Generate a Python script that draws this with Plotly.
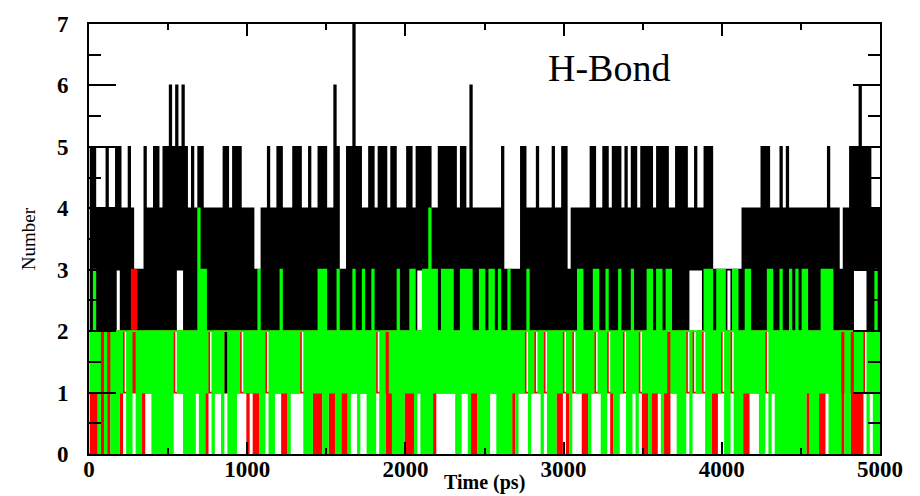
import plotly.graph_objects as go

# sampling of the trajectory (ps)
time_step_ps = 10
time_ps = [time_step_ps * k for k in range(501)]

# Number of H-bonds, black series (10 ps resolution)
hb_black = [
    2,5,2,5,2,4,2,4,2,4, 2,5,2,4,2,4,2,5,3,5, 2,4,2,4,2,5,2,4,2,3, 2,3,2,3,2,5,2,4,2,4, 2,5,2,5,2,4,2,5,2,5,
    2,6,2,5,2,6,3,5,3,6, 2,5,2,4,2,5,2,4,2,5, 2,5,2,4,2,4,2,4,2,4, 2,4,2,4,2,5,1,5,2,4, 2,5,2,5,2,5,2,4,2,4,
    2,4,2,4,2,3,2,3,2,4, 2,4,2,5,2,4,2,4,2,5, 2,5,2,4,2,4,2,4,2,5, 2,5,2,5,2,4,2,4,2,5, 2,4,2,4,2,5,2,5,2,5,
    2,4,2,4,2,6,2,5,2,3, 2,3,2,5,2,5,2,7,2,5, 2,5,2,4,2,4,2,5,2,5, 2,4,2,5,2,5,2,5,2,4, 2,5,2,5,2,4,2,4,2,4,
    2,5,2,5,2,4,2,5,3,5, 3,5,2,5,2,5,2,4,2,4, 2,5,2,5,2,5,2,5,2,5, 2,5,2,4,2,5,2,5,2,4, 2,6,2,4,2,4,2,4,2,4,
    2,4,2,4,2,4,2,4,2,4, 2,5,2,3,2,3,2,3,2,3, 2,3,2,5,2,5,2,4,2,4, 2,4,2,5,2,4,2,4,2,4, 2,4,2,5,2,4,2,4,2,5,
    2,5,2,3,2,4,2,4,2,4, 2,4,2,4,2,4,2,5,2,5, 2,4,2,4,2,5,2,5,2,4, 2,5,2,5,2,5,2,4,2,5, 2,4,2,5,2,5,2,4,2,5,
    2,5,2,5,2,5,2,4,2,5, 2,5,2,5,2,5,2,4,2,4, 2,5,2,5,2,5,2,5,2,4, 3,4,3,5,3,4,3,4,2,5, 2,5,2,5,2,3,2,3,2,3,
    2,3,2,3,3,3,2,3,2,3, 2,3,2,4,2,4,2,4,2,4, 2,4,2,4,2,5,2,5,2,5, 2,4,2,4,2,4,2,5,2,4, 2,5,2,4,2,4,2,4,2,4,
    2,4,2,4,2,4,2,4,2,4, 2,4,2,4,2,4,2,5,2,4, 2,4,2,4,2,3,2,4,2,4, 2,5,2,5,3,5,3,6,3,5, 3,5,2,5,2,4,2,4,2,4,
    2,
]

# red series
hb_red = [
    0,2,0,2,0,2,1,2,0,2, 1,2,0,2,1,2,1,2,1,2, 0,2,1,1,1,2,1,3,1,3, 1,2,1,2,0,2,1,2,1,2, 1,2,1,2,1,2,1,2,1,2,
    1,2,1,2,1,1,1,2,1,2, 1,2,1,2,1,2,1,2,1,2, 1,2,1,2,0,2,1,1,1,2, 1,2,1,2,1,2,2,2,1,2, 1,2,1,2,1,2,1,1,1,2,
    0,2,1,2,0,2,0,2,1,2, 1,2,1,1,1,2,1,2,1,2, 1,2,0,2,0,2,1,2,1,2, 1,2,1,2,1,1,1,2,1,2, 1,2,0,2,0,2,0,2,1,2,
    1,2,0,2,0,2,1,2,1,2, 0,2,0,2,1,2,1,2,1,2, 1,2,1,2,1,2,1,2,1,2, 1,2,1,1,1,2,1,2,0,2, 0,2,1,2,1,2,1,2,1,2,
    0,2,0,2,0,2,1,2,1,2, 1,2,1,2,1,2,1,2,0,2, 1,2,1,2,1,2,1,2,1,2, 1,2,1,2,1,2,1,2,1,2, 1,2,0,2,0,2,1,2,1,2,
    1,2,1,2,1,2,1,2,1,2, 1,2,1,2,1,2,1,2,0,2, 1,2,1,2,1,2,1,1,1,2, 1,2,1,1,1,2,1,2,1,1, 1,2,1,2,1,2,0,2,0,2,
    1,1,0,2,1,2,1,1,1,2, 1,2,0,2,0,2,1,2,1,2, 1,1,1,2,1,2,1,2,1,1, 0,2,1,2,1,2,1,2,1,1, 1,2,1,2,1,2,1,2,1,1,
    0,2,0,2,1,2,0,2,0,2, 1,2,1,2,0,2,0,2,1,2, 1,2,1,2,1,2,1,2,1,1, 1,2,1,1,1,2,1,2,1,1, 1,2,1,2,0,2,0,2,1,2,
    1,1,1,2,1,2,1,1,1,2, 1,2,1,2,0,2,0,2,1,2, 1,2,1,2,1,2,1,2,1,1, 1,2,1,2,1,2,1,2,1,2, 1,2,1,2,1,2,1,2,1,2,
    1,2,1,2,0,2,1,2,1,2, 1,2,0,2,0,2,1,2,1,2, 1,2,1,2,1,2,0,2,1,2, 1,2,0,2,0,2,0,2,0,2, 1,1,1,2,1,2,1,2,1,2,
    1,
]

# green series
hb_green = [
    1,2,1,3,1,2,0,2,2,2, 0,2,2,2,0,2,0,2,0,2, 1,2,2,2,0,2,0,2,2,2, 0,2,0,2,1,2,1,2,1,2, 0,2,0,2,0,2,0,2,0,2,
    0,2,0,2,2,2,1,2,1,2, 0,2,0,2,0,2,0,2,1,4, 0,3,0,3,1,2,2,2,0,2, 1,2,1,2,0,2,2,2,0,2, 0,2,0,2,1,2,2,2,1,2,
    1,2,1,2,1,2,1,3,0,2, 0,2,2,2,0,2,0,2,1,2, 1,3,1,2,1,2,0,2,1,2, 1,2,1,2,2,2,0,2,0,2, 0,2,1,2,1,3,1,3,0,3,
    0,2,1,2,1,2,0,3,0,2, 1,2,1,2,0,2,1,3,1,2, 0,2,1,3,1,2,0,2,0,3, 0,2,2,2,0,2,0,2,2,2, 1,2,0,2,0,3,0,2,0,2,
    1,2,1,3,1,3,0,2,1,2, 0,3,0,3,0,4,0,3,1,3, 1,2,1,3,1,3,1,3,1,3, 1,2,0,2,0,3,1,3,1,3, 0,3,1,2,1,2,0,3,0,3,
    0,2,0,3,1,3,1,2,0,3, 0,2,0,2,0,3,0,2,1,2, 0,2,1,2,1,2,2,3,0,2, 1,2,2,2,1,2,0,2,2,2, 0,2,0,2,0,2,1,2,1,2,
    2,2,1,2,0,2,2,2,1,3, 1,3,1,2,1,2,0,2,1,3, 2,3,1,2,0,2,0,3,2,2, 1,2,0,2,0,3,1,2,2,2, 0,2,0,3,1,2,0,2,2,2,
    1,2,1,3,0,3,1,2,1,3, 1,3,0,2,1,3,2,3,1,2, 1,2,0,2,0,2,0,2,2,2, 0,2,2,2,1,2,1,2,2,3, 0,3,0,3,1,2,1,3,1,3,
    2,3,0,2,0,2,2,3,0,3, 0,2,0,2,1,3,1,3,1,2, 1,2,1,2,0,2,0,2,2,3, 0,3,1,2,0,2,0,3,0,2, 0,2,0,3,0,2,0,3,0,2,
    0,3,0,3,1,2,0,2,0,2, 0,2,1,3,1,3,1,3,0,3, 0,2,0,2,0,2,2,2,0,2, 0,2,2,2,1,2,1,2,1,2, 2,2,0,2,1,2,0,3,0,2,
    0,
]

x_ticks = [0, 1000, 2000, 3000, 4000, 5000]
y_ticks = [0, 1, 2, 3, 4, 5, 6, 7]
label_text = "H-Bond"
x_title = "Time (ps)"
y_title = "Number"

fig = go.Figure()
for vals, col in ((hb_black, "#000000"), (hb_red, "#ff0000"), (hb_green, "#00ff00")):
    fig.add_trace(go.Scatter(
        x=time_ps, y=vals, mode="lines",
        line=dict(color=col, width=1.7, shape="hv"),
        showlegend=False, hoverinfo="skip",
    ))

fig.add_annotation(
    x=3290, y=6.28, xref="x", yref="y", text=label_text, showarrow=False,
    font=dict(family="Liberation Serif", size=38, color="black"),
)
# x-axis title placed as text under the tick labels
fig.add_annotation(
    x=0.5, y=-0.066, xref="paper", yref="paper", text=x_title, showarrow=False,
    xanchor="center", yanchor="middle",
    font=dict(family="Liberation Serif", size=20, color="black", weight="bold"),
)

axis_common = dict(
    showline=True, linecolor="black", linewidth=2, mirror="ticks",
    ticks="inside", tickcolor="black", tickwidth=2,
    showgrid=False, zeroline=False, automargin=False,
    tickfont=dict(family="Liberation Serif", size=23, color="black", weight="bold"),
)

fig.update_xaxes(
    range=[0, 5000], tickvals=x_ticks, ticklen=12,
    minor=dict(dtick=500, tick0=0, ticklen=6, ticks="inside", tickcolor="black", tickwidth=2),
    ticklabelstandoff=-7,
    **axis_common,
)
fig.update_yaxes(
    range=[0, 7], tickvals=y_ticks, ticklen=27,
    minor=dict(dtick=0.5, tick0=0, ticklen=12, ticks="inside", tickcolor="black", tickwidth=2),
    title=dict(text=y_title, font=dict(family="Liberation Serif", size=19, color="black"), standoff=16),
    ticklabelstandoff=14,
    **axis_common,
)

fig.update_layout(
    width=920, height=496,
    margin=dict(l=89, r=40, t=24, b=42, pad=0),
    plot_bgcolor="white", paper_bgcolor="white",
)

fig.write_html("out.html")
